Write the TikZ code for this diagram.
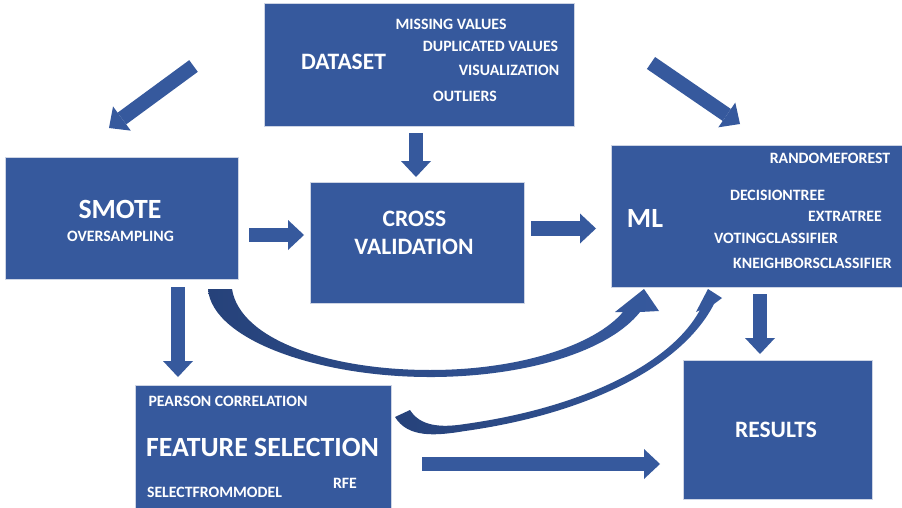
\documentclass[tikz,border=0pt]{standalone}
\usepackage{fontspec}
\setmainfont{Carlito}
\usetikzlibrary{arrows.meta}
\definecolor{boxblue}{RGB}{54,89,157}
\definecolor{curvedark}{RGB}{38,66,122}
\definecolor{boxedge}{RGB}{205,212,228}
\newcommand\fsz[1]{\fontsize{#1}{#1}\selectfont}

\begin{document}
\begin{tikzpicture}[x=1pt,y=-1pt,
  box/.style={fill=boxblue, draw=boxedge, line width=0.6pt, inner sep=0pt},
  smalltxt/.style={text=white, inner sep=0pt, font=\bfseries\fsz{15.8}},
  midtxt/.style={text=white, inner sep=0pt, font=\bfseries\fsz{23.5}},
  largetxt/.style={text=white, inner sep=0pt, font=\bfseries\fsz{27.8}},
  blockarrow/.style={draw=boxblue, line width=14.5pt,
    -{Triangle[length=16pt,width=30pt,line width=0pt]}},
  curvearrow/.style={left color=curvedark, right color=boxblue, draw=none}
]
% page
\fill[white] (0,0) rectangle (902,508);
\useasboundingbox (0,0) rectangle (902,508);

% boxes
\node[box, minimum width=310pt, minimum height=123pt] (dataset) at (419,64.5) {};
\node[box, minimum width=233pt, minimum height=122pt] (smote) at (121.5,218) {};
\node[box, minimum width=214pt, minimum height=121pt] (cv) at (417,242.5) {};
\node[box, minimum width=293pt, minimum height=142pt] (ml) at (757.5,216) {};
\node[box, minimum width=189pt, minimum height=139pt] (res) at (777.5,429.5) {};
\node[box, minimum width=256pt, minimum height=125pt] (fs) at (263,447.5) {};

% dataset texts
\node[midtxt] (t-dataset) at (343.5,62) {DATASET};
\node[smalltxt] (t-missing) at (451,24) {MISSING VALUES};
\node[smalltxt] (t-dup) at (490.5,46) {DUPLICATED VALUES};
\node[smalltxt] (t-vis) at (509,70) {VISUALIZATION};
\node[smalltxt] (t-out) at (465,96) {OUTLIERS};

% smote texts
\node[largetxt] (t-smote) at (120,209) {SMOTE};
\node[smalltxt] (t-over) at (120.5,236) {OVERSAMPLING};

% cross validation texts
\node[midtxt] (t-cross) at (414.5,219) {CROSS};
\node[midtxt] (t-valid) at (414,247) {VALIDATION};

% ml texts
\node[largetxt] (t-ml) at (645,218) {ML};
\node[smalltxt] (t-rf) at (830,158) {RANDOMEFOREST};
\node[smalltxt] (t-dt) at (777.5,195) {DECISIONTREE};
\node[smalltxt] (t-et) at (845,216) {EXTRATREE};
\node[smalltxt] (t-vc) at (776,238) {VOTINGCLASSIFIER};
\node[smalltxt] (t-kn) at (812.5,263) {KNEIGHBORSCLASSIFIER};

% results text
\node[midtxt] (t-res) at (776,430) {RESULTS};

% feature selection texts
\node[smalltxt] (t-pc) at (228,401) {PEARSON CORRELATION};
\node[largetxt] (t-fs) at (262.5,447) {FEATURE SELECTION};
\node[smalltxt] (t-rfe) at (345,483) {RFE};
\node[smalltxt] (t-sfm) at (214.5,492) {SELECTFROMMODEL};

% straight block arrows
\coordinate (a1s) at (193.5,66);  \coordinate (a1e) at (109,128);
\coordinate (a2s) at (651,63);    \coordinate (a2e) at (740,124);
\coordinate (a3s) at (416,133);   \coordinate (a3e) at (416,177);
\coordinate (a4s) at (249,235);   \coordinate (a4e) at (304,235);
\coordinate (a5s) at (531,228.5); \coordinate (a5e) at (596,228.5);
\coordinate (a6s) at (760,294);   \coordinate (a6e) at (760,354);
\coordinate (a7s) at (178,287);   \coordinate (a7e) at (178,377);
\coordinate (a8s) at (422,464);   \coordinate (a8e) at (660,464);
\draw[blockarrow] (a1s) -- (a1e);
\draw[blockarrow] (a2s) -- (a2e);
\draw[blockarrow] (a3s) -- (a3e);
\draw[blockarrow] (a4s) -- (a4e);
\draw[blockarrow] (a5s) -- (a5e);
\draw[blockarrow] (a6s) -- (a6e);
\draw[blockarrow] (a7s) -- (a7e);
\draw[blockarrow] (a8s) -- (a8e);

% curved arrow from SMOTE round to ML
\path[curvearrow]
  (208,289) .. controls (212,340) and (320,378) .. (435,377)
  .. controls (530,376) and (610,350) .. (640,312)
  -- (659,311) -- (644,289) -- (615,312) -- (623,312)
  .. controls (595,345) and (520,370) .. (430,370)
  .. controls (330,370) and (240,340) .. (232,289) -- cycle;

% curved arrow from feature selection up to ML
\path[curvearrow]
  (395,417) .. controls (408,438) and (435,436) .. (465,431)
  .. controls (580,415) and (680,370) .. (714,304)
  -- (722,298) -- (708,289) -- (696,312) -- (700,310)
  .. controls (670,365) and (580,408) .. (465,424)
  .. controls (440,428) and (420,426) .. (410,410) -- cycle;
\end{tikzpicture}
\end{document}
